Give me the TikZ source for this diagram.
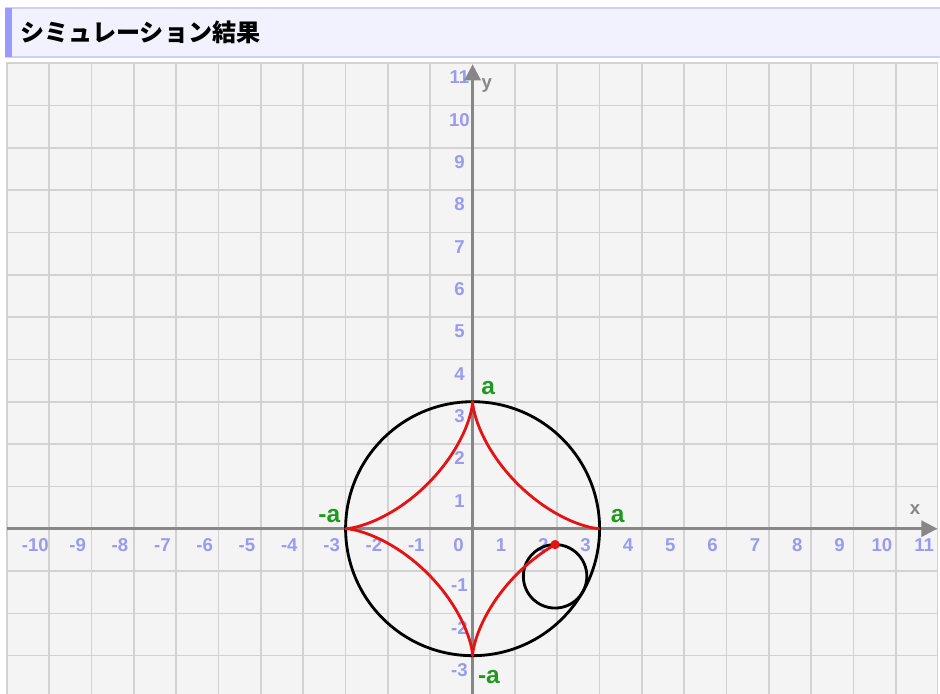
\documentclass[tikz,border=0pt]{standalone}
\usepackage{fontspec}
\setmainfont{Liberation Sans}
\newfontfamily\cjk{Noto Sans CJK JP}
\usetikzlibrary{arrows.meta}
\definecolor{Panel}{HTML}{F4F4F4}
\definecolor{GridGray}{HTML}{D2D2D2}
\definecolor{AxisGray}{HTML}{878787}
\definecolor{TickBlue}{HTML}{9A9AEE}
\definecolor{LabelGreen}{HTML}{1F9A1F}
\definecolor{CurveRed}{HTML}{E41414}
\definecolor{HeadFill}{HTML}{F2F2FF}
\definecolor{HeadLine}{HTML}{CFCFFF}
\definecolor{HeadBar}{HTML}{9A9AFF}

\begin{document}
\begin{tikzpicture}[
  gridline/.style={draw=GridGray,line width=1.1pt},
  axis/.style={draw=AxisGray,line width=2pt,-{Triangle[length=0.38cm,width=0.38cm]}},
  ticklabel/.style={text=TickBlue,font=\bfseries\fontsize{12.5}{14}\selectfont,inner sep=0pt},
  axislabel/.style={text=AxisGray,font=\bfseries\fontsize{12.5}{14}\selectfont,inner sep=0pt},
  glabel/.style={text=LabelGreen,font=\bfseries\fontsize{16.5}{18}\selectfont,inner sep=0pt},
  circ/.style={draw=black,line width=1.9pt},
  curve/.style={draw=CurveRed,line width=1.9pt,line join=round}
]
\useasboundingbox (-11.165,-3.905) rectangle (11.042,12.49);
% header
\fill[HeadFill] (-11.047,11.143) rectangle (11.042,12.301);
\draw[HeadLine,line width=1pt] (-11.047,12.301) -- (11.042,12.301);
\draw[HeadLine,line width=1pt] (-11.047,11.143) -- (11.042,11.143);
\fill[HeadBar] (-11.047,11.143) rectangle (-10.882,12.301);
\node[anchor=west,inner sep=0pt,font=\cjk\bfseries\fontsize{16.2}{19}\selectfont] (head) at (-10.69,11.72) {シミュレーション結果};
% panel and grid
\fill[Panel] (-11,-3.905) rectangle (10.98,11);
\foreach \i in {-10,...,10}
  \draw[gridline] (\i,-3.905) -- (\i,11);
\foreach \j in {-3,...,10}
  \draw[gridline] (-11,\j) -- (10.98,\j);
\draw[gridline] (-11,-3.905) -- (-11,11) -- (10.98,11) -- (10.98,-3.905);
% tick labels
\foreach \i in {-10,...,11}
  \node[ticklabel] (xl\i) at (\i-0.33,-0.38) {\i};
\foreach \j in {-3,-2,-1,1,2,3,4,5,6,7,8,9,10,11}
  \node[ticklabel] (yl\j) at (-0.31,\j-0.34) {\j};
% axes
\coordinate (xs) at (-11,0);
\coordinate (xe) at (10.98,0);
\coordinate (ys) at (0,-3.905);
\coordinate (ye) at (0,10.97);
\draw[axis] (xs) -- (xe);
\draw[axis] (ys) -- (ye);
\node[axislabel] (xlab) at (10.455,0.44) {x};
\node[axislabel] (ylab) at (0.333,10.465) {y};
% circles and astroid
\coordinate (O) at (0,0);
\coordinate (rc) at (1.9486,-1.125);
\draw[circ] (O) circle (3);
\draw[circ] (rc) circle (0.75);
\draw[curve] plot[domain=0:330,samples=331,variable=\t]
  ({3*cos(\t)*cos(\t)*cos(\t)},{3*sin(\t)*sin(\t)*sin(\t)});
\fill[CurveRed] (1.9486,-0.375) circle (0.11);
% cusp labels
\node[glabel] (aTop) at (0.371,3.317) {a};
\node[glabel] (aRight) at (3.428,0.307) {a};
\node[glabel] (aLeft) at (-3.385,0.307) {-a};
\node[glabel] (aBottom) at (0.387,-3.503) {-a};
\end{tikzpicture}
\end{document}
